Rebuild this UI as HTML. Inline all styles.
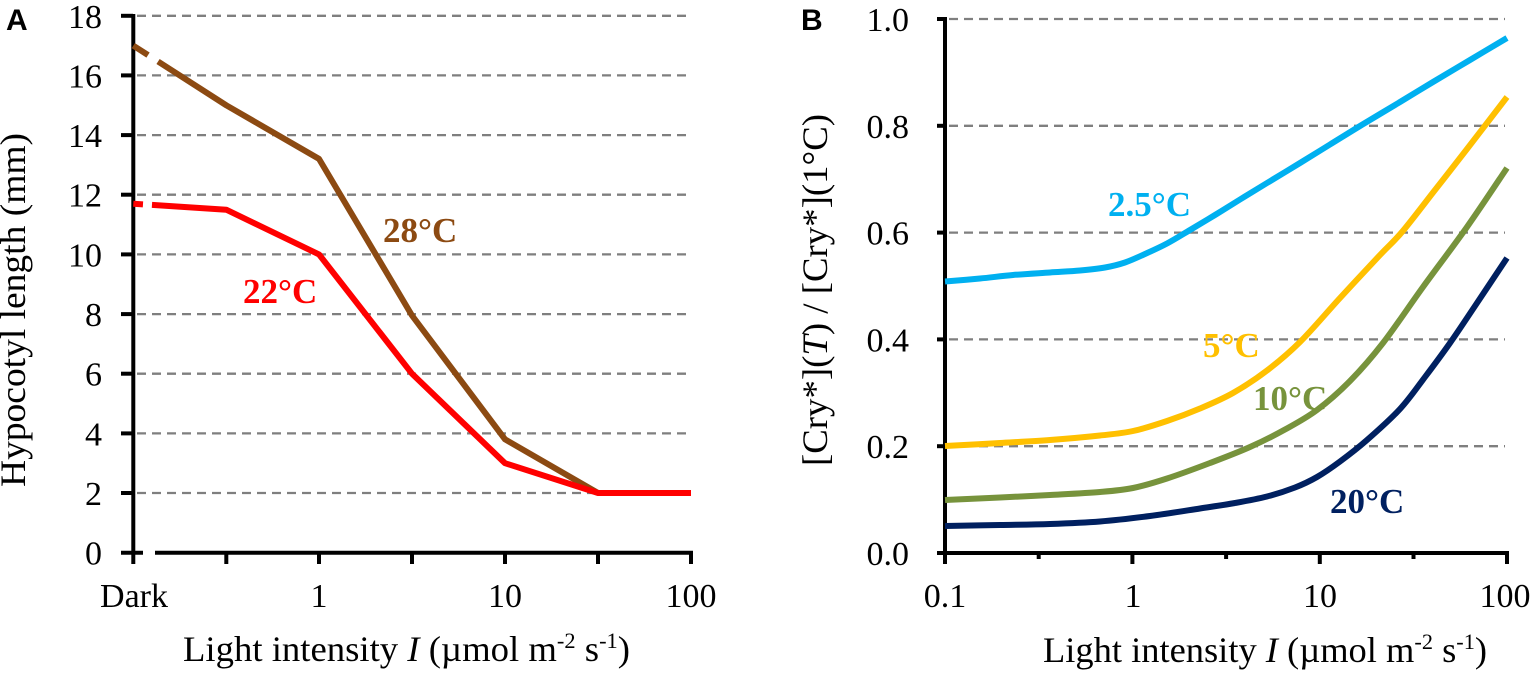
<!DOCTYPE html>
<html><head><meta charset="utf-8"><style>
html,body{margin:0;padding:0;background:#fff;}
svg{display:block;}
text{font-family:"Liberation Serif","Times New Roman",serif;fill:#000;}
.grid{stroke:#7f7f7f;stroke-width:2.3;stroke-dasharray:9 6;fill:none;}
.ax{stroke:#000;stroke-width:4;fill:none;}
</style></head><body>
<svg width="1535" height="674" viewBox="0 0 1535 674" xmlns="http://www.w3.org/2000/svg">
<rect width="1535" height="674" fill="#fff"/>

<!-- ================= PANEL A ================= -->
<text x="6" y="30" font-family="Liberation Sans, Arial, sans-serif" font-weight="bold" font-size="30" style="font-family:'Liberation Sans',Arial,sans-serif;font-weight:bold;font-size:30px;">A</text>

<g class="grid">
<line x1="137" y1="493.0" x2="691" y2="493.0"/>
<line x1="137" y1="433.4" x2="691" y2="433.4"/>
<line x1="137" y1="373.7" x2="691" y2="373.7"/>
<line x1="137" y1="314.1" x2="691" y2="314.1"/>
<line x1="137" y1="254.4" x2="691" y2="254.4"/>
<line x1="137" y1="194.7" x2="691" y2="194.7"/>
<line x1="137" y1="135.1" x2="691" y2="135.1"/>
<line x1="137" y1="75.4" x2="691" y2="75.4"/>
<line x1="137" y1="15.8" x2="691" y2="15.8"/>
</g>

<g class="ax">
<line x1="133.3" y1="14" x2="133.3" y2="564"/>
<line x1="121" y1="552.7" x2="143" y2="552.7"/>
<line x1="155" y1="552.7" x2="693" y2="552.7"/>
<line x1="121" y1="493.0" x2="133" y2="493.0"/>
<line x1="121" y1="433.4" x2="133" y2="433.4"/>
<line x1="121" y1="373.7" x2="133" y2="373.7"/>
<line x1="121" y1="314.1" x2="133" y2="314.1"/>
<line x1="121" y1="254.4" x2="133" y2="254.4"/>
<line x1="121" y1="194.7" x2="133" y2="194.7"/>
<line x1="121" y1="135.1" x2="133" y2="135.1"/>
<line x1="121" y1="75.4" x2="133" y2="75.4"/>
<line x1="121" y1="15.8" x2="133" y2="15.8"/>
<line x1="226.3" y1="552" x2="226.3" y2="564"/>
<line x1="319" y1="552" x2="319" y2="564"/>
<line x1="412" y1="552" x2="412" y2="564"/>
<line x1="505" y1="552" x2="505" y2="564"/>
<line x1="598" y1="552" x2="598" y2="564"/>
<line x1="691" y1="552" x2="691" y2="564"/>
</g>

<g font-family="Liberation Serif, Times New Roman, serif" font-size="34" text-anchor="end">
<text x="102" y="564.7" style="font-family:'Liberation Serif',serif;font-size:34px;">0</text>
<text x="102" y="505" style="font-family:'Liberation Serif',serif;font-size:34px;">2</text>
<text x="102" y="445.4" style="font-family:'Liberation Serif',serif;font-size:34px;">4</text>
<text x="102" y="385.7" style="font-family:'Liberation Serif',serif;font-size:34px;">6</text>
<text x="102" y="326.1" style="font-family:'Liberation Serif',serif;font-size:34px;">8</text>
<text x="102" y="266.4" style="font-family:'Liberation Serif',serif;font-size:34px;">10</text>
<text x="102" y="206.7" style="font-family:'Liberation Serif',serif;font-size:34px;">12</text>
<text x="102" y="147.1" style="font-family:'Liberation Serif',serif;font-size:34px;">14</text>
<text x="102" y="87.4" style="font-family:'Liberation Serif',serif;font-size:34px;">16</text>
<text x="102" y="27.8" style="font-family:'Liberation Serif',serif;font-size:34px;">18</text>
</g>
<g font-family="Liberation Serif, Times New Roman, serif" font-size="34" text-anchor="middle">
<text x="134" y="607" style="font-family:'Liberation Serif',serif;font-size:34px;">Dark</text>
<text x="319" y="607" style="font-family:'Liberation Serif',serif;font-size:34px;">1</text>
<text x="505" y="607" style="font-family:'Liberation Serif',serif;font-size:34px;">10</text>
<text x="691" y="607" style="font-family:'Liberation Serif',serif;font-size:34px;">100</text>
</g>

<text x="183" y="661" style="font-family:'Liberation Serif',serif;font-size:36px;" textLength="447" lengthAdjust="spacingAndGlyphs">Light intensity <tspan font-style="italic">I</tspan> (µmol m<tspan dy="-13" style="font-size:22px;">-2</tspan><tspan dy="13"> s</tspan><tspan dy="-13" style="font-size:22px;">-1</tspan><tspan dy="13">)</tspan></text>
<text transform="translate(25,310) rotate(-90)" text-anchor="middle" style="font-family:'Liberation Serif',serif;font-size:36px;" textLength="354" lengthAdjust="spacingAndGlyphs">Hypocotyl length (mm)</text>

<polyline points="133.3,45.6 226.3,105.3 319,158.9 412,315.5 505,439.3 598,493" fill="none" stroke="#8c4a12" stroke-width="6" stroke-linejoin="round" stroke-dasharray="17.5 11.9 2000"/>
<polyline points="133.3,203.7 226.3,209.7 319,254.4 412,373.7 505,463.2 598,493 691,493" fill="none" stroke="#ff0000" stroke-width="6" stroke-linejoin="round" stroke-dasharray="9.7 9 2000"/>

<text x="383" y="242" style="font-family:'Liberation Serif',serif;font-size:35px;font-weight:bold;fill:#8c4a12;">28°C</text>
<text x="243" y="303" style="font-family:'Liberation Serif',serif;font-size:35px;font-weight:bold;fill:#ff0000;">22°C</text>

<!-- ================= PANEL B ================= -->
<text x="801" y="30" style="font-family:'Liberation Sans',Arial,sans-serif;font-weight:bold;font-size:30px;">B</text>

<g class="grid">
<line x1="949" y1="446.2" x2="1505" y2="446.2"/>
<line x1="949" y1="339.4" x2="1505" y2="339.4"/>
<line x1="949" y1="232.6" x2="1505" y2="232.6"/>
<line x1="949" y1="125.8" x2="1505" y2="125.8"/>
<line x1="949" y1="19" x2="1505" y2="19"/>
</g>

<g class="ax">
<line x1="945" y1="17" x2="945" y2="564"/>
<line x1="943" y1="553" x2="1509" y2="553"/>
<line x1="937" y1="553" x2="945" y2="553"/>
<line x1="937" y1="446.2" x2="945" y2="446.2"/>
<line x1="937" y1="339.4" x2="945" y2="339.4"/>
<line x1="937" y1="232.6" x2="945" y2="232.6"/>
<line x1="937" y1="125.8" x2="945" y2="125.8"/>
<line x1="937" y1="19" x2="945" y2="19"/>
<line x1="1038.7" y1="552" x2="1038.7" y2="559"/>
<line x1="1132.4" y1="552" x2="1132.4" y2="564"/>
<line x1="1226.1" y1="552" x2="1226.1" y2="559"/>
<line x1="1319.8" y1="552" x2="1319.8" y2="564"/>
<line x1="1413.5" y1="552" x2="1413.5" y2="559"/>
<line x1="1507" y1="552" x2="1507" y2="564"/>
</g>

<g font-family="Liberation Serif, Times New Roman, serif" font-size="34" text-anchor="end">
<text x="909" y="565" style="font-family:'Liberation Serif',serif;font-size:34px;">0.0</text>
<text x="909" y="458.2" style="font-family:'Liberation Serif',serif;font-size:34px;">0.2</text>
<text x="909" y="351.4" style="font-family:'Liberation Serif',serif;font-size:34px;">0.4</text>
<text x="909" y="244.6" style="font-family:'Liberation Serif',serif;font-size:34px;">0.6</text>
<text x="909" y="137.8" style="font-family:'Liberation Serif',serif;font-size:34px;">0.8</text>
<text x="909" y="31" style="font-family:'Liberation Serif',serif;font-size:34px;">1.0</text>
</g>
<g font-family="Liberation Serif, Times New Roman, serif" font-size="34" text-anchor="middle">
<text x="945" y="607" style="font-family:'Liberation Serif',serif;font-size:34px;">0.1</text>
<text x="1133" y="607" style="font-family:'Liberation Serif',serif;font-size:34px;">1</text>
<text x="1320" y="607" style="font-family:'Liberation Serif',serif;font-size:34px;">10</text>
<text x="1505" y="607" style="font-family:'Liberation Serif',serif;font-size:34px;">100</text>
</g>

<text x="1043" y="662" style="font-family:'Liberation Serif',serif;font-size:36px;" textLength="444" lengthAdjust="spacingAndGlyphs">Light intensity <tspan font-style="italic">I</tspan> (µmol m<tspan dy="-13" style="font-size:22px;">-2</tspan><tspan dy="13"> s</tspan><tspan dy="-13" style="font-size:22px;">-1</tspan><tspan dy="13">)</tspan></text>
<text transform="translate(827,290) rotate(-90)" text-anchor="middle" style="font-family:'Liberation Serif',serif;font-size:36px;" textLength="352" lengthAdjust="spacingAndGlyphs">[Cry*](<tspan font-style="italic">T</tspan>) / [Cry*](1°C)</text>

<g id="curves" fill="none" stroke-width="6" stroke-linejoin="round" stroke-linecap="butt">
<polyline class="sm" stroke="#00b0f0" points="945,281.5 980,278.5 1013,275 1050,272.5 1080,270.5 1105,267.5 1125,262.5 1145,254 1167,243.5 1190,230 1215,215 1240,199.5 1267,183 1300,163 1330,144.5 1360,126 1400,102 1433,82 1470,60 1507,38"/>
<polyline class="sm" stroke="#ffc000" points="945,446 1000,443 1050,440 1100,435.5 1133,431 1167,421 1200,408.5 1233,393 1267,370.5 1300,342 1340,298 1380,255 1402,232 1435,190 1467,149 1507,97"/>
<polyline class="sm" stroke="#77933c" points="945,500 1000,497.5 1050,495 1100,492 1133,488 1167,478.5 1210,463 1250,447 1285,429.5 1317,410 1350,381 1383,343 1423,287 1467,227 1507,168"/>
<polyline class="sm" stroke="#002060" points="945,526 1000,525 1050,524 1100,521.5 1150,516 1200,508.5 1235,503 1267,496.5 1295,487.5 1317,477 1340,461.5 1367,440 1400,409 1425,377 1450,343 1475,306 1507,258"/>
</g>

<text x="1108" y="216" style="font-family:'Liberation Serif',serif;font-size:35px;font-weight:bold;fill:#00b0f0;">2.5°C</text>
<text x="1203" y="357" style="font-family:'Liberation Serif',serif;font-size:35px;font-weight:bold;fill:#ffc000;">5°C</text>
<text x="1253" y="410" style="font-family:'Liberation Serif',serif;font-size:35px;font-weight:bold;fill:#77933c;">10°C</text>
<text x="1330" y="513" style="font-family:'Liberation Serif',serif;font-size:35px;font-weight:bold;fill:#002060;">20°C</text>
</svg>
<script>
(function(){
  var NS="http://www.w3.org/2000/svg";
  var pls=document.querySelectorAll("polyline.sm");
  for(var k=0;k<pls.length;k++){
    var pl=pls[k];
    var raw=pl.getAttribute("points").trim().split(/\s+/);
    var p=raw.map(function(s){var a=s.split(",");return [parseFloat(a[0]),parseFloat(a[1])];});
    var d="M"+p[0][0]+","+p[0][1];
    for(var i=0;i<p.length-1;i++){
      var p0=p[i>0?i-1:i],p1=p[i],p2=p[i+1],p3=p[i+2<p.length?i+2:i+1];
      var c1x=p1[0]+(p2[0]-p0[0])/6,c1y=p1[1]+(p2[1]-p0[1])/6;
      var c2x=p2[0]-(p3[0]-p1[0])/6,c2y=p2[1]-(p3[1]-p1[1])/6;
      d+=" C"+c1x.toFixed(2)+","+c1y.toFixed(2)+" "+c2x.toFixed(2)+","+c2y.toFixed(2)+" "+p2[0]+","+p2[1];
    }
    var path=document.createElementNS(NS,"path");
    path.setAttribute("d",d);
    path.setAttribute("stroke",pl.getAttribute("stroke"));
    pl.parentNode.replaceChild(path,pl);
  }
})();
</script>
</body></html>
